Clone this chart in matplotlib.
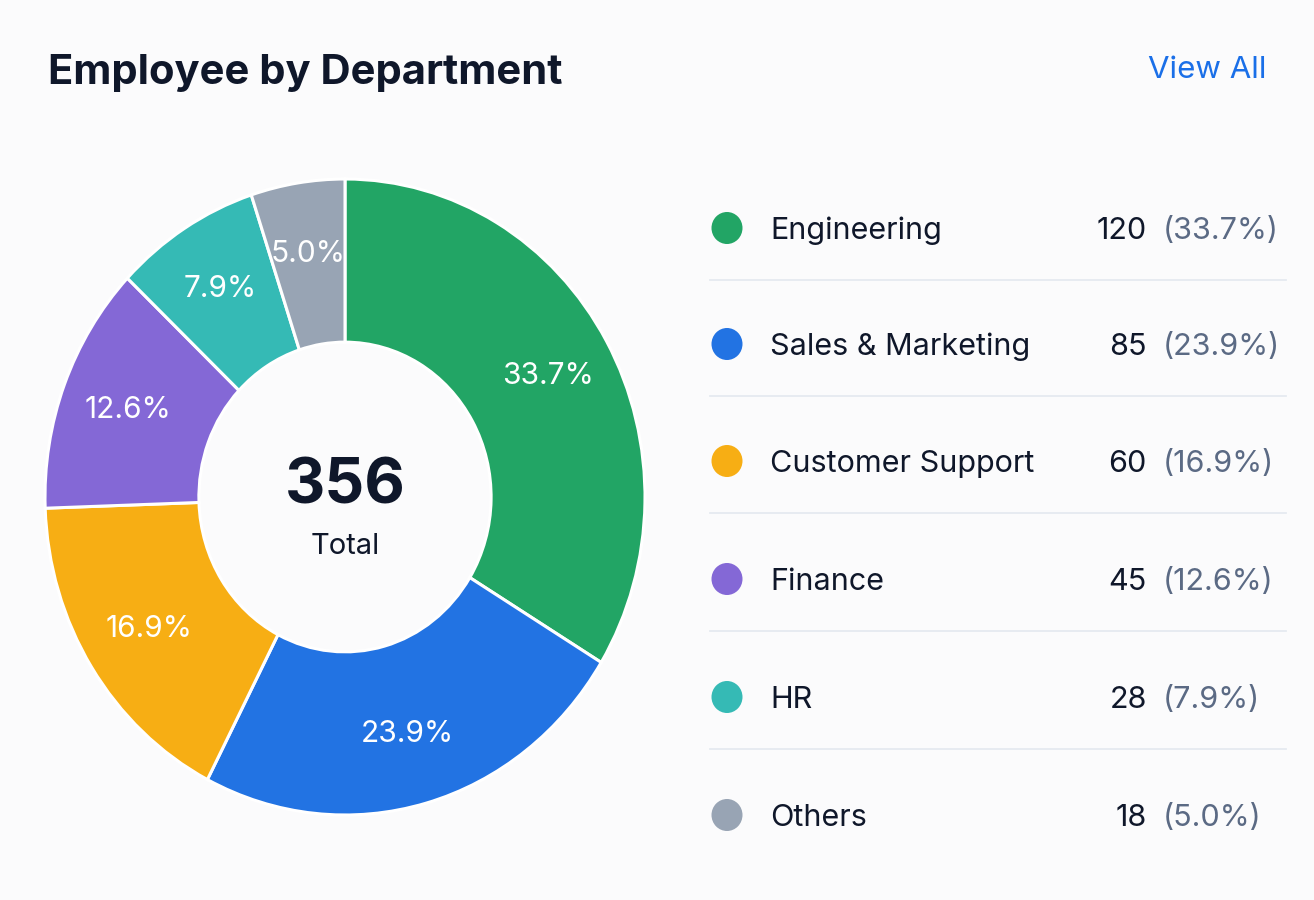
import numpy as np
import matplotlib.pyplot as plt
from matplotlib.patches import Ellipse

# data
departments = ['Engineering', 'Sales & Marketing', 'Customer Support', 'Finance', 'HR', 'Others']
counts = [120, 85, 60, 45, 28, 18]
pct_labels = ['33.7%', '23.9%', '16.9%', '12.6%', '7.9%', '5.0%']
colors = ['#22a565', '#2273e3', '#f7ae14', '#8468d6', '#35bab5', '#98a4b4']
total = 356

FONT = ['Inter', 'DejaVu Sans']
plt.rcParams['font.family'] = FONT

W, H = 1314, 900
bg = '#fbfbfc'
fig = plt.figure(figsize=(W / 100, H / 100), dpi=100, facecolor=bg)

# donut (slightly taller than wide, like the reference)
ax = fig.add_axes([45 / W, 85 / H, 600 / W, 636 / H])
wedges, texts = ax.pie(counts, colors=colors, startangle=90, counterclock=False,
                       radius=1.0, wedgeprops=dict(width=0.513, edgecolor='white', linewidth=2.2))
ax.set_aspect('auto')
ax.set_xlim(-1, 1)
ax.set_ylim(-1, 1)
ax.axis('off')

# percentage labels inside the ring
for w, lab in zip(wedges, pct_labels):
    mid = np.deg2rad((w.theta1 + w.theta2) / 2)
    r = 0.775
    ax.text(r * np.cos(mid), r * np.sin(mid), lab, ha='center', va='center',
            color='white', fontsize=21.5)

ax.text(0, 0.03, str(total), ha='center', va='center', fontsize=45,
        fontweight='bold', color='#0f172a')
ax.text(0, -0.155, 'Total', ha='center', va='center', fontsize=21, color='#0f172a')

# overlay in pixel coordinates for title and legend table
ov = fig.add_axes([0, 0, 1, 1], zorder=-1)
ov.set_xlim(0, W)
ov.set_ylim(H, 0)
ov.axis('off')
ov.patch.set_alpha(0)

ov.text(48, 84, 'Employee by Department', ha='left', va='baseline',
        fontsize=30, fontweight='bold', color='#0f172a')
ov.text(1267, 78, 'View All', ha='right', va='baseline', fontsize=22.5, color='#1a6fe8')

row_y = [228, 344, 461, 579, 697, 815]
for i, (name, n, p, c) in enumerate(zip(departments, counts, pct_labels, colors)):
    y = row_y[i]
    ov.add_patch(Ellipse((727, y), 31, 32, color=c, lw=0))
    ov.text(770, y + 11, name, ha='left', va='baseline', fontsize=22, color='#0f172a')
    ov.text(1147, y + 11, str(n), ha='right', va='baseline', fontsize=22, color='#0f172a')
    ov.text(1163, y + 11, '(' + p + ')', ha='left', va='baseline', fontsize=22, color='#5b6a84')
    if i < len(departments) - 1:
        ov.plot([710, 1286], [y + 52, y + 52], color='#e5eaf0', lw=1.3)

fig.savefig('out.png', dpi=100, facecolor=bg)
